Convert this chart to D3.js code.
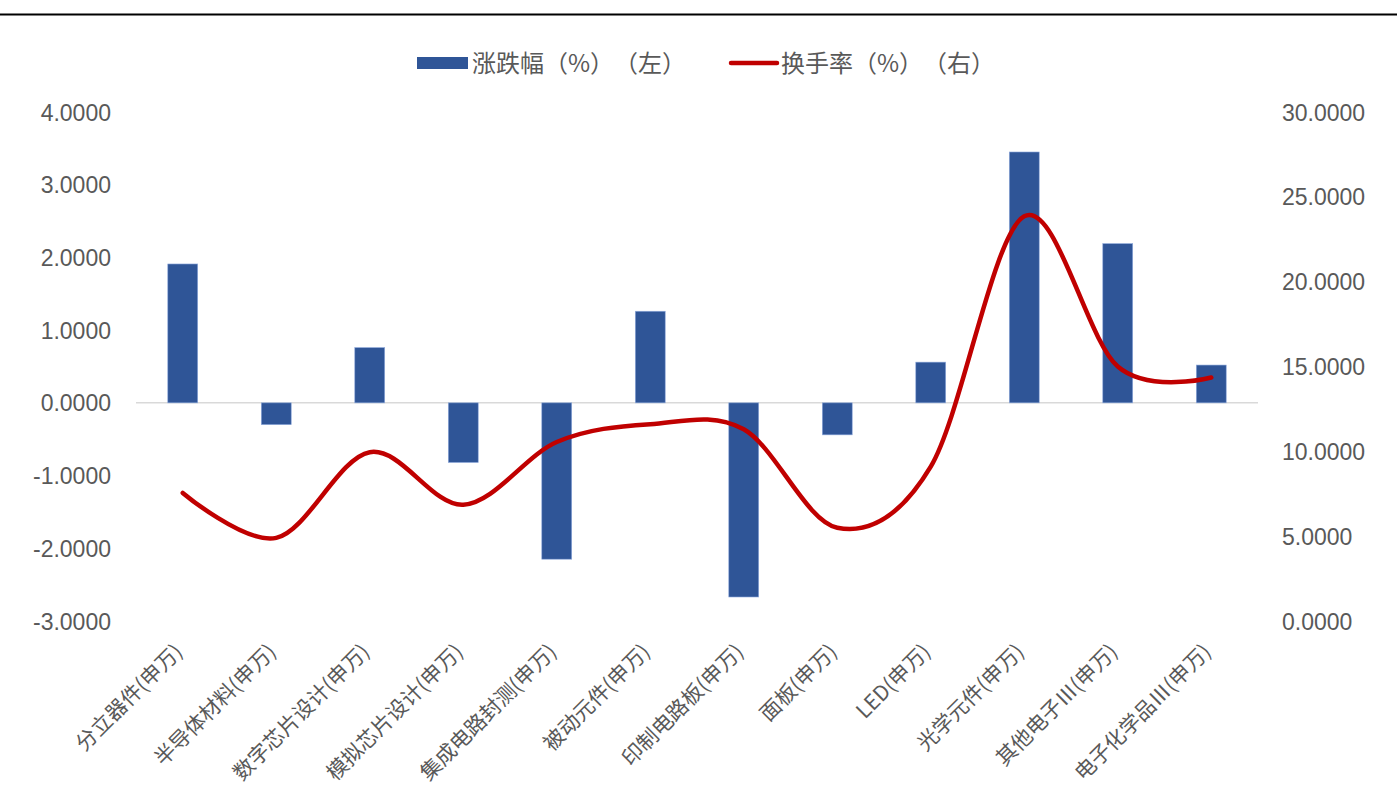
<!DOCTYPE html>
<html>
<head>
<meta charset="utf-8">
<script src="https://cdn.jsdelivr.net/npm/d3@7"></script>
<style>
  body { margin: 0; background: #fff; }
  text { fill: #595959; }
  .tick text { font-family: "Liberation Sans", Arial, sans-serif; font-size: 23px; }
  .xlab { font-family: "Noto Sans CJK SC", sans-serif; font-size: 21px; }
  .legend text {
    font-family: "Noto Sans CJK SC", sans-serif; font-size: 24px;
    text-spacing-trim: space-all;
    font-feature-settings: "chws" 0, "halt" 0;
  }
</style>
</head>
<body>
<div id="chart"></div>
<script>
// data
var categories = ["分立器件(申万)", "半导体材料(申万)", "数字芯片设计(申万)", "模拟芯片设计(申万)",
    "集成电路封测(申万)", "被动元件(申万)", "印制电路板(申万)", "面板(申万)", "LED(申万)",
    "光学元件(申万)", "其他电子Ⅲ(申万)", "电子化学品Ⅲ(申万)"];
var change = [1.91, -0.30, 0.76, -0.82, -2.15, 1.26, -2.67, -0.44, 0.56, 3.45, 2.19, 0.52];
var turnover = [7.55, 4.90, 9.95, 6.85, 10.55, 11.60, 11.30, 5.50, 9.10, 23.85, 15.00, 14.35];
var leftTicks = [-3, -2, -1, 0, 1, 2, 3, 4];
var rightTicks = [0, 5, 10, 15, 20, 25, 30];

var W = 1397, H = 800;
var margin = { top: 112, right: 139, bottom: 179, left: 136 };

var svg = d3.select("#chart").append("svg")
    .attr("width", W)
    .attr("height", H);

// top rule
svg.append("line")
    .attr("x1", 0).attr("x2", W)
    .attr("y1", 14.5).attr("y2", 14.5)
    .attr("stroke", "#000").attr("stroke-width", 2);

var x = d3.scaleBand().domain(categories)
    .range([margin.left, W - margin.right])
    .paddingInner(0.68).paddingOuter(0.34);
var yL = d3.scaleLinear().domain([-3, 4]).range([H - margin.bottom, margin.top]);
var yR = d3.scaleLinear().domain([0, 30]).range([H - margin.bottom, margin.top]);

// plain hyphen minus, like the original
var fmt = d => d3.format(".4f")(d).replace("−", "-");

// left axis
var axL = svg.append("g")
    .attr("transform", "translate(" + (margin.left - 22) + ",0)")
    .call(d3.axisLeft(yL).tickValues(leftTicks).tickFormat(fmt).tickSize(0));
axL.select(".domain").remove();
axL.selectAll("text").attr("dy", "0.35em");

// right axis
var axR = svg.append("g")
    .attr("transform", "translate(" + (W - margin.right + 21) + ",0)")
    .call(d3.axisRight(yR).tickValues(rightTicks).tickFormat(fmt).tickSize(0));
axR.select(".domain").remove();
axR.selectAll("text").attr("dy", "0.35em");

// zero line
svg.append("line")
    .attr("x1", margin.left).attr("x2", W - margin.right)
    .attr("y1", yL(0)).attr("y2", yL(0))
    .attr("stroke", "#d9d9d9").attr("stroke-width", 1.5);

// bars
svg.append("g").selectAll("rect")
    .data(change)
    .enter().append("rect")
    .attr("x", (d, i) => x(categories[i]))
    .attr("width", x.bandwidth())
    .attr("y", d => yL(Math.max(0, d)))
    .attr("height", d => Math.abs(yL(d) - yL(0)))
    .attr("fill", "#2f5597")
    .attr("stroke", "#8faadc")
    .attr("stroke-width", 0.6);

// turnover line
var line = d3.line()
    .x((d, i) => x(categories[i]) + x.bandwidth() / 2)
    .y(d => yR(d))
    .curve(d3.curveCatmullRom.alpha(0));

svg.append("path")
    .datum(turnover)
    .attr("d", line)
    .attr("fill", "none")
    .attr("stroke", "#c00000")
    .attr("stroke-width", 4.5)
    .attr("stroke-linecap", "round");

// category labels
svg.append("g").selectAll("text")
    .data(categories)
    .enter().append("text")
    .attr("class", "xlab")
    .attr("text-anchor", "end")
    .attr("transform", d => "translate(" + (x(d) + x.bandwidth() / 2 + 1) + "," + (H - margin.bottom + 32) + ") rotate(-45)")
    .text(d => d);

// legend
var lg = svg.append("g").attr("class", "legend");
lg.append("rect")
    .attr("x", 417).attr("y", 57).attr("width", 51).attr("height", 12)
    .attr("fill", "#2f5597");
lg.append("text").attr("x", 472).attr("y", 72).text("涨跌幅（%）（左）");
lg.append("line")
    .attr("x1", 731).attr("x2", 777).attr("y1", 63).attr("y2", 63)
    .attr("stroke", "#c00000").attr("stroke-width", 4.5).attr("stroke-linecap", "round");
lg.append("text").attr("x", 781).attr("y", 72).text("换手率（%）（右）");
</script>
</body>
</html>
